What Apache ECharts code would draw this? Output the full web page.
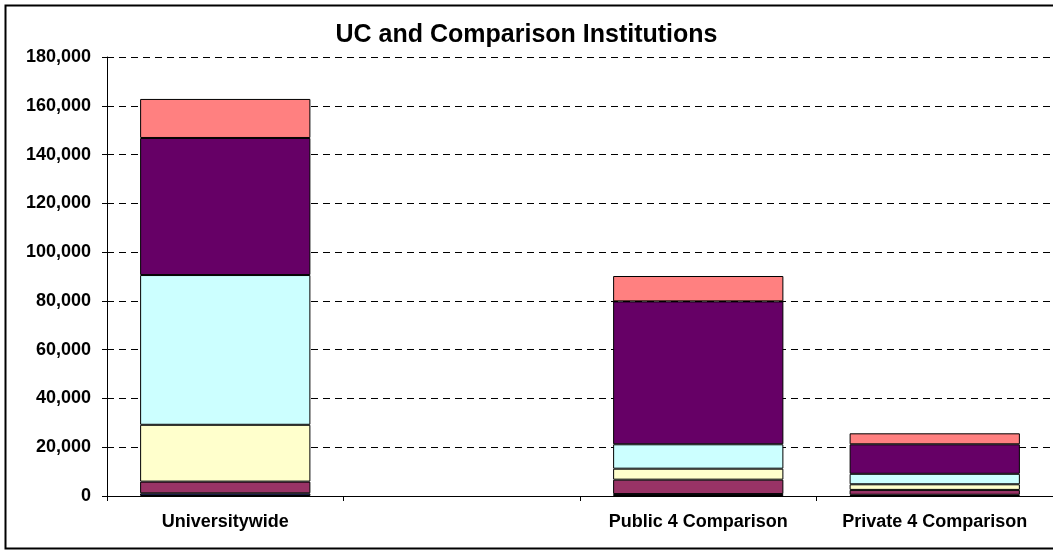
<!DOCTYPE html>
<html>
<head>
<meta charset="utf-8">
<script src="https://cdn.jsdelivr.net/npm/echarts@6/dist/echarts.min.js"></script>
<style>
  html, body { margin: 0; padding: 0; background: #fff; overflow: hidden; }
  #main { width: 1053px; height: 550px; }
</style>
</head>
<body>
<div id="main"></div>
<script>
var categories = ['Universitywide', '', 'Public 4 Comparison', 'Private 4 Comparison'];
var yTicks = [0, 20000, 40000, 60000, 80000, 100000, 120000, 140000, 160000, 180000];

// stacked segments, bottom to top
var seg1 = [1100, '-', 800, 500];
var seg2 = [4800, '-', 5900, 2000];
var seg3 = [23300, '-', 4500, 2300];
var seg4 = [61400, '-', 10000, 4300];
var seg5 = [56200, '-', 58600, 12100];
var seg6 = [16000, '-', 10400, 4500];

var colors = ['#2a2a66', '#993366', '#FFFFCC', '#CCFFFF', '#660066', '#FF8080'];

var chart = echarts.init(document.getElementById('main'));
var font = 'Liberation Sans, Arial, sans-serif';

function makeSeries(name, data, color) {
  return {
    name: name,
    type: 'bar',
    stack: 'total',
    data: data,
    barCategoryGap: '28%',
    itemStyle: { color: color, borderColor: '#000', borderWidth: 1 }
  };
}

var option = {
  backgroundColor: '#fff',
  animation: false,
  textStyle: { fontFamily: font },
  title: {
    text: 'UC and Comparison Institutions',
    left: 'center',
    top: 18,
    textStyle: { fontSize: 25, fontWeight: 'bold', color: '#000', fontFamily: font }
  },
  // chart frame; the picture is cut off on the right, so no right edge shows
  graphic: [{
    type: 'rect',
    left: 3, top: 3,
    shape: { width: 1070, height: 543 },
    style: { fill: 'none', stroke: '#000', lineWidth: 2 },
    silent: true
  }],
  grid: { left: 107, right: -8, top: 57, bottom: 54, containLabel: false },
  xAxis: {
    type: 'category',
    data: categories,
    axisLine: { lineStyle: { color: '#000', width: 1 } },
    axisTick: { show: true, alignWithLabel: false, interval: 0, length: 5, lineStyle: { color: '#000' } },
    axisLabel: { interval: 0, color: '#000', fontWeight: 'bold', fontSize: 18, margin: 17, fontFamily: font }
  },
  yAxis: {
    type: 'value',
    min: yTicks[0],
    max: yTicks[yTicks.length - 1],
    interval: 20000,
    axisLine: { show: true, lineStyle: { color: '#000', width: 1 } },
    axisTick: { show: true, length: 5, lineStyle: { color: '#000' } },
    axisLabel: {
      color: '#000', fontWeight: 'bold', fontSize: 18, margin: 16,
      fontFamily: font,
      formatter: function (v) { return v.toString().replace(/\B(?=(\d{3})+(?!\d))/g, ','); }
    },
    splitLine: { show: true, lineStyle: { color: '#000', type: [7, 5], width: 1 } }
  },
  series: [
    makeSeries('Series 1', seg1, colors[0]),
    makeSeries('Series 2', seg2, colors[1]),
    makeSeries('Series 3', seg3, colors[2]),
    makeSeries('Series 4', seg4, colors[3]),
    makeSeries('Series 5', seg5, colors[4]),
    makeSeries('Series 6', seg6, colors[5])
  ]
};

chart.setOption(option);
</script>
</body>
</html>
